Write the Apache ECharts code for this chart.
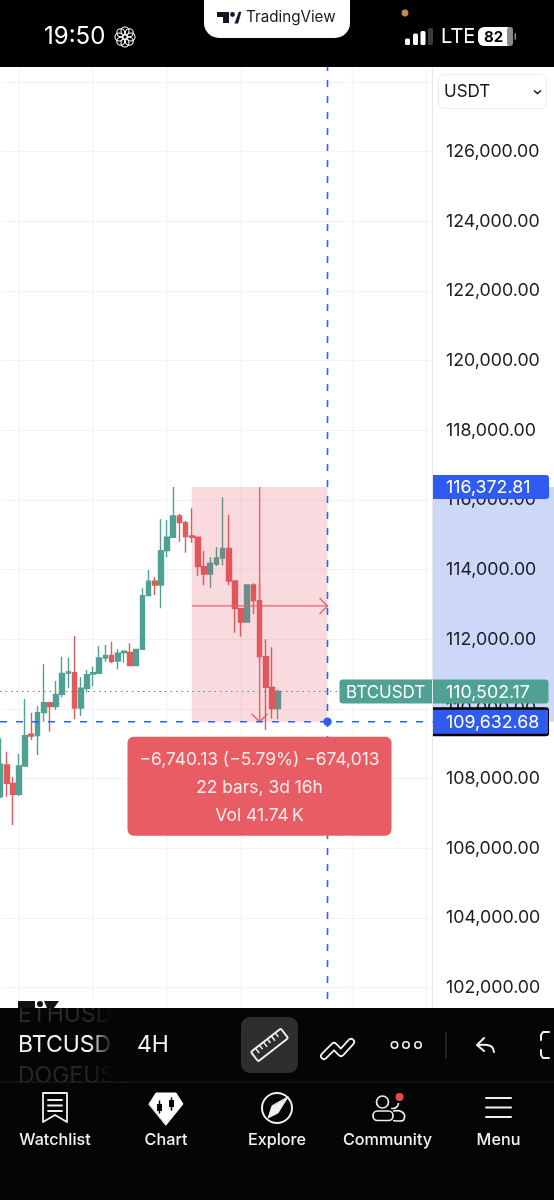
<!DOCTYPE html>
<html>
<head>
<meta charset="utf-8">
<title>BTCUSDT 4H</title>
<style>html,body{margin:0;padding:0;background:#fff}#chart{width:554px;height:1200px}</style>
<script src="https://cdn.jsdelivr.net/npm/echarts@6/dist/echarts.min.js"></script>
</head>
<body>
<div id="chart"></div>
<script>
// 4H candles, oldest first
const opens  = [107483,108393,107866,107550,108364,109273,109235,109895,110182,110067,110421,111034,111043,110029,110594,111005,111024,111465,111541,111378,111618,111627,111245,111713,113254,113666,113560,114546,114929,115541,115350,114967,114929,114087,113876,114163,114336,114613,113675,112881,112498,113560,113111,111503,110622,110010];
const closes = [108412,107866,107550,108364,109235,109225,109895,110182,110067,110421,111024,111063,110029,110594,110986,111043,111465,111541,111359,111599,111656,111245,111713,113254,113666,113560,114546,114929,115541,115350,114948,114929,114087,113876,114183,114336,114613,113675,112881,112498,113560,113111,111503,110622,110010,110502.17];
const lows   = [107436,107483,106670,107503,108364,109110,108680,109637,109350,109972,110335,110594,109704,109799,110479,110661,111024,111359,111311,111139,111331,111245,111245,111713,113254,113273,112891,114355,114929,114805,114489,114776,113819,113551,113484,114106,114125,113551,112192,112077,112498,112728,111359,109397,109723,109704];
const highs  = [109158,108775,108058,108708,110288,109895,110087,111283,110182,110814,111503,111474,112096,110910,111120,111216,111809,111838,111934,111713,111656,111886,111713,113465,113991,113781,115446,115427,116372.81,115599,115407,115761,114929,114537,114355,114651,116077,115580,113675,112881,113560,113608,113627,112001,111771,110560];

const totalBars = 71;
const categories = Array.from({length: totalBars}, (_, i) => String(i));
const priceTicks = [102000,104000,106000,108000,110000,112000,114000,116000,118000,120000,122000,124000,126000];
const sessionGridBars = [3,15,27,39,57,69];

const lastPrice = 110502.17;
const symbolName = 'BTCUSDT';
const rulerStartBar = 31;
const rulerEndBar = 53;
const rulerMidBar = 42;
const rulerHigh = 116372.81;
const rulerMid = 112960;
const rulerLow = 109632.68;
const rulerLines = ['\u22126,740.13 (\u22125.79%) \u2212674,013', '22 bars, 3d 16h', 'Vol 41.74\u2009K'];

const UP = '#4fa193', DOWN = '#e25b5b', BLUE = '#2f5bf0';
const FONT = 'Inter, "Noto Sans", sans-serif';
const money = v => v.toLocaleString('en-US', {minimumFractionDigits: 2, maximumFractionDigits: 2});
const candles = opens.map((o, i) => [o, closes[i], lows[i], highs[i]]);

const AXIS_X = 432.5;

// helpers for the phone chrome drawn over the chart
const Z = 100;
const txt = (x, y, text, size, fill, opt = {}) => ({type: 'text', z: Z + 2, x, y, style: {
  text, fill, font: `${opt.weight || 400} ${size}px ${FONT}`, align: opt.align || 'left', verticalAlign: 'middle'}});
const rect = (x, y, width, height, fill, r = 0, extra = {}) => ({type: 'rect', z: Z + 1, shape: {x, y, width, height, r},
  style: Object.assign({fill}, extra)});
const line = (x1, y1, x2, y2, stroke, lineWidth = 2) => ({type: 'line', z: Z + 2, shape: {x1, y1, x2, y2},
  style: {stroke, lineWidth, lineCap: 'round'}});
const poly = (points, stroke, lineWidth = 2, fill = null, z = Z + 2) => ({type: fill ? 'polygon' : 'polyline', z, shape: {points},
  style: {stroke, lineWidth, fill: fill || 'none', lineJoin: 'round', lineCap: 'round'}});
const circ = (cx, cy, r, fill, stroke, lineWidth = 2, z = Z + 2) => ({type: 'circle', z, shape: {cx, cy, r},
  style: {fill: fill || 'none', stroke: stroke || 'none', lineWidth}});
const fade = (x, y, w, h) => ({type: 'rect', z: Z + 3, shape: {x, y, width: w, height: h}, style: {
  fill: new echarts.graphic.LinearGradient(0, 0, 1, 0, [{offset: 0, color: 'rgba(5,5,5,0)'}, {offset: 1, color: '#050505'}])}});

const W = '#f2f2f2';
const NAV_SIZE = 16.2;
const chrome = [
  // price scale edge
  {type: 'line', z: 3, shape: {x1: AXIS_X, y1: 0, x2: AXIS_X, y2: 1200}, style: {stroke: '#e6e8ec', lineWidth: 1}},

  // currency selector
  {type: 'rect', z: 30, shape: {x: 438.5, y: 74.5, width: 108, height: 34, r: 5}, style: {fill: '#fff', stroke: '#ececee', lineWidth: 1}},
  {type: 'text', z: 31, x: 444, y: 92, style: {text: 'USDT', fill: '#131722', font: `400 17px ${FONT}`, verticalAlign: 'middle'}},
  {type: 'polyline', z: 31, shape: {points: [[534, 90.5], [537.5, 93.5], [541, 90.5]]}, style: {stroke: '#131722', lineWidth: 1.6, fill: 'none'}},

  // status bar
  rect(0, 0, 554, 67, '#000'),
  {type: 'rect', z: Z + 2, shape: {x: 204, y: -20, width: 146, height: 58, r: 15}, style: {fill: '#fff'}},
  poly([[217, 12], [229, 12], [229, 23], [223, 23], [223, 17], [217, 17]], '#131722', 0, '#131722'),
  circ(232.5, 14.5, 2.4, '#131722', null, 0),
  poly([[235, 23], [239, 12], [241, 12], [238, 23]], '#131722', 0.6, '#131722'),
  txt(246, 17.5, 'TradingView', 15.2, '#1a1a1a', {weight: 400}),
  txt(44, 37, '19:50', 24, '#fff', {weight: 400}),
  ...[0, 1, 2, 3, 4, 5, 6, 7].map(i => circ(125 + 6 * Math.cos(i * Math.PI / 4), 37 + 6 * Math.sin(i * Math.PI / 4), 4, null, '#fff', 1.1)),
  circ(405, 13, 3.4, '#c58a52', null, 0),
  rect(405, 38.5, 5, 6.5, '#fff', 1.5), rect(413, 33.5, 5, 11.5, '#fff', 1.5), rect(420.5, 31, 5, 14, '#fff', 1.5), rect(428, 28, 5, 17, '#3a3a3a', 1.5),
  txt(441, 37, 'LTE', 20, '#fff', {weight: 400}),
  rect(478, 27, 35, 19, '#fff', 6),
  rect(507, 27, 6, 19, '#8c8c8c', 3),
  rect(514.5, 33, 1.5, 7, '#8c8c8c', 1),
  txt(493.5, 37, '82', 15, '#000', {weight: 700, align: 'center'}),

  // symbol strip and bottom navigation
  rect(0, 1008, 554, 192, '#050505'),
  txt(18, 1015, 'ETHUSD', 23, '#2b2b2b', {weight: 400}),
  txt(18, 1045, 'BTCUSD', 23, '#f2f2f2', {weight: 400}),
  txt(18, 1076, 'DOGEUSD', 23, '#272727', {weight: 400}),
  fade(90, 1008, 23, 74),
  Object.assign(rect(113, 1008, 441, 74, '#050505', 0, {}), {z: Z + 3}),
  // the strip's scrolling text stops at its top edge; the logo sits on the chart just above
  {type: 'rect', z: Z + 3, shape: {x: 14, y: 1000, width: 100, height: 8}, style: {fill: '#fff'}},
  {type: 'rect', z: Z + 4, shape: {x: 18, y: 1001, width: 17, height: 7}, style: {fill: '#111'}},
  {type: 'circle', z: Z + 4, shape: {cx: 40, cy: 1004, r: 3}, style: {fill: '#111'}},
  {type: 'polygon', z: Z + 4, shape: {points: [[44, 1001], [59, 1001], [54, 1008], [47, 1008]]}, style: {fill: '#111'}},
  Object.assign(txt(137, 1045, '4H', 23, '#f2f2f2'), {z: Z + 4}),
  {type: 'rect', z: Z + 4, shape: {x: 241, y: 1017, width: 57, height: 56, r: 9}, style: {fill: '#2e2e2e'}},
  {type: 'group', z: Z + 5, x: 269.5, y: 1045, rotation: 38 * Math.PI / 180, children: [
    {type: 'rect', z: Z + 5, shape: {x: -19, y: -6, width: 38, height: 12, r: 1.5}, style: {fill: 'none', stroke: '#f0f0f0', lineWidth: 2}},
    ...[-13, -8, -3, 2, 7, 12].map((x, i) => ({type: 'line', z: Z + 5, shape: {x1: x, y1: -6, x2: x, y2: i % 2 ? -1 : 0}, style: {stroke: '#f0f0f0', lineWidth: 1.5}}))
  ]},
  Object.assign(poly([[324, 1056], [334, 1046], [341, 1053], [351, 1042]], '#f0f0f0', 8), {z: Z + 4}),
  Object.assign(poly([[324, 1056], [334, 1046], [341, 1053], [351, 1042]], '#050505', 4.4), {z: Z + 5}),
  ...[394.5, 406, 418].map(x => Object.assign(circ(x, 1045, 3.2, null, '#eee', 1.6), {z: Z + 4})),
  Object.assign(line(446, 1032, 446, 1058, '#2c2c2c', 1.5), {z: Z + 4}),
  Object.assign(poly([[484, 1038], [477, 1045], [484, 1051]], '#eee', 2), {z: Z + 4}),
  {type: 'polyline', z: Z + 4, shape: {points: [[478, 1045], [487, 1045], [492, 1047], [494, 1052]], smooth: 0.4}, style: {stroke: '#eee', lineWidth: 2, fill: 'none', lineCap: 'round'}},
  Object.assign(poly([[549, 1032], [543, 1032], [541, 1035], [541, 1040]], '#eee', 2), {z: Z + 4}),
  Object.assign(poly([[549, 1058], [543, 1058], [541, 1055], [541, 1050]], '#eee', 2), {z: Z + 4}),
  Object.assign(line(0, 1082, 554, 1082, '#1f1f1f', 1), {z: Z + 4}),
  Object.assign(rect(0, 1082.5, 554, 118, '#050505', 0), {z: Z + 3}),

  // Watchlist
  Object.assign(poly([[43, 1093], [67, 1093], [67, 1122], [55, 1115], [43, 1122], [43, 1093]], '#f0f0f0', 1.8), {z: Z + 4}),
  ...[1100, 1105.5, 1111].map(y => Object.assign(line(48, y, 62, y, '#f0f0f0', 1.8), {z: Z + 4})),
  Object.assign(txt(55, 1140, 'Watchlist', NAV_SIZE, W, {weight: 500, align: 'center'}), {z: Z + 4}),
  // Chart
  Object.assign(poly([[149, 1104], [156, 1093], [176, 1093], [183, 1104], [166, 1125]], '#fff', 1, '#fff'), {z: Z + 4}),
  ...[[159.5, 1101, 1113, 1104, 7], [171.5, 1098, 1110, 1100, 7]].map(c => [
    Object.assign(line(c[0], c[1], c[0], c[2], '#050505', 1.5), {z: Z + 5}),
    {type: 'rect', z: Z + 5, shape: {x: c[0] - 2.5, y: c[3], width: 5, height: c[4]}, style: {fill: '#050505'}}
  ]).flat(),
  Object.assign(txt(166, 1140, 'Chart', NAV_SIZE, W, {weight: 500, align: 'center'}), {z: Z + 4}),
  // Explore
  Object.assign(circ(277, 1108, 15, null, '#f0f0f0', 2), {z: Z + 4}),
  Object.assign(poly([[288, 1097], [278, 1113], [268, 1118], [272, 1106]], '#f0f0f0', 1, '#f0f0f0'), {z: Z + 4}),
  Object.assign(txt(277, 1140, 'Explore', NAV_SIZE, W, {weight: 500, align: 'center'}), {z: Z + 4}),
  // Community
  Object.assign(circ(382.5, 1102, 6, null, '#f0f0f0', 1.7), {z: Z + 4}),
  {type: 'rect', z: Z + 4, shape: {x: 373, y: 1111, width: 20, height: 9.5, r: 4.5}, style: {fill: 'none', stroke: '#f0f0f0', lineWidth: 1.7}},
  {type: 'polyline', z: Z + 4, shape: {points: [[393, 1111], [400, 1111], [404.5, 1115], [403, 1120.5], [393, 1120.5]], smooth: 0.3}, style: {fill: 'none', stroke: '#f0f0f0', lineWidth: 1.7}},
  {type: 'arc', z: Z + 4, shape: {cx: 393, cy: 1103, r: 5.5, startAngle: 0, endAngle: 1.9}, style: {fill: 'none', stroke: '#f0f0f0', lineWidth: 1.7}},
  Object.assign(circ(399.5, 1097, 4, '#e5484d', null, 0), {z: Z + 5}),
  Object.assign(txt(387.5, 1140, 'Community', NAV_SIZE, W, {weight: 500, align: 'center'}), {z: Z + 4}),
  // Menu
  ...[1098, 1107.5, 1117].map(y => Object.assign(line(486, y, 511, y, '#f0f0f0', 2), {z: Z + 4})),
  Object.assign(txt(498.5, 1140, 'Menu', NAV_SIZE, W, {weight: 500, align: 'center'}), {z: Z + 4})
];

// session separators on the time scale
const renderSessionLine = (params, api) => {
  const x = api.coord([api.value(0), 0])[0];
  const {y, height} = params.coordSys;
  return {type: 'line', shape: {x1: x, y1: y, x2: x, y2: y + height}, style: {stroke: '#f2f3f5', lineWidth: 1}};
};

// price range band behind the scale labels
const renderPriceBand = (params, api) => {
  const top = api.coord([0, rulerHigh])[1], bottom = api.coord([0, rulerLow])[1];
  return {type: 'rect', shape: {x: AXIS_X + 0.5, y: top, width: 122, height: bottom - top}, style: {fill: '#cdd8f8'}};
};

// ruler box: shaded area, mid cross with arrows
const renderRuler = (params, api) => {
  const [x0, yTop] = api.coord([rulerStartBar, rulerHigh]);
  const [x1, yBottom] = api.coord([rulerEndBar, rulerLow]);
  const xMid = api.coord([rulerMidBar, rulerLow])[0];
  const yMid = api.coord([0, rulerMid])[1];
  const red = '#e2646c';
  const stroke = {stroke: red, lineWidth: 1.4, fill: 'none'};
  return {type: 'group', children: [
    {type: 'rect', shape: {x: x0, y: yTop, width: x1 - x0, height: yBottom - yTop}, style: {fill: 'rgba(226,70,90,0.2)'}},
    {type: 'line', shape: {x1: x0, y1: yMid, x2: x1, y2: yMid}, style: stroke},
    {type: 'line', shape: {x1: xMid, y1: yTop, x2: xMid, y2: yBottom}, style: stroke},
    {type: 'polyline', shape: {points: [[x1 - 8, yMid - 8], [x1, yMid], [x1 - 8, yMid + 8]]}, style: stroke},
    {type: 'polyline', shape: {points: [[xMid - 8, yBottom - 8], [xMid, yBottom], [xMid + 8, yBottom - 8]]}, style: stroke}
  ]};
};

const renderCrosshair = (params, api) => {
  const [x, y] = api.coord([rulerEndBar, rulerLow]);
  const lastY = api.coord([0, lastPrice])[1];
  const dash = {stroke: '#2962ff', lineWidth: 1.6, lineDash: [7, 9], fill: 'none'};
  return {type: 'group', children: [
    {type: 'line', shape: {x1: 0, y1: lastY, x2: AXIS_X, y2: lastY}, style: {stroke: '#4f8f82', lineWidth: 1.2, lineDash: [1.5, 4]}},
    {type: 'line', shape: {x1: x, y1: 0, x2: x, y2: 1010}, style: dash},
    {type: 'line', shape: {x1: 0, y1: y, x2: AXIS_X, y2: y}, style: dash},
    {type: 'circle', shape: {cx: x, cy: y, r: 4.2}, style: {fill: BLUE}}
  ]};
};

// price tags on the scale and the measurement readout
const renderTags = (params, api) => {
  const topY = api.coord([0, rulerHigh])[1];
  const lastY = api.coord([0, lastPrice])[1];
  const lowY = api.coord([0, rulerLow])[1];
  const tagFont = `400 17.8px ${FONT}`;
  const label = (x, y, text, font = tagFont, align = 'left', fill = '#fff') => ({type: 'text', x, y,
    style: {text, font, fill, align, verticalAlign: 'middle'}});
  const boxTop = lowY + 15;
  return {type: 'group', children: [
    {type: 'rect', shape: {x: 433, y: topY - 12, width: 116, height: 24, r: [0, 3, 3, 0]}, style: {fill: BLUE}},
    label(446, topY + 1, money(rulerHigh)),
    {type: 'rect', shape: {x: 433, y: lowY - 14.5, width: 116, height: 29, r: [0, 3, 3, 0]}, style: {fill: '#000'}},
    {type: 'rect', shape: {x: 433, y: lowY - 12, width: 115, height: 24}, style: {fill: BLUE}},
    label(446, lowY + 1, money(rulerLow)),
    {type: 'rect', shape: {x: 339.5, y: lastY - 12, width: 209, height: 24, r: 3}, style: {fill: UP}},
    {type: 'line', shape: {x1: AXIS_X, y1: lastY - 12, x2: AXIS_X, y2: lastY + 12}, style: {stroke: '#dfeee9', lineWidth: 1}},
    label(346, lastY + 1, symbolName, `400 17px ${FONT}`),
    label(446, lastY + 1, money(lastPrice)),
    {type: 'rect', shape: {x: 127.5, y: boxTop, width: 264, height: 99, r: 6}, style: {fill: '#e85d64'}},
    ...rulerLines.map((t, i) => label(259.5, boxTop + 23 + i * 28, t, `400 17.4px ${FONT}`, 'center', '#fdecec'))
  ]};
};

const chart = echarts.init(document.getElementById('chart'), null, {renderer: 'canvas'});
chart.setOption({
  animation: false,
  backgroundColor: '#fff',
  grid: {left: 0.5, width: 431.9, top: 12.4, height: 1044.9, containLabel: false},
  xAxis: {type: 'category', data: categories, boundaryGap: false, axisLine: {show: false}, axisTick: {show: false},
    axisLabel: {show: false}, splitLine: {show: false}},
  yAxis: [
    {type: 'value', min: 100000, max: 130000, interval: 2000, position: 'left', z: 0,
      axisLine: {show: false}, axisTick: {show: false}, axisLabel: {show: false},
      splitLine: {show: true, lineStyle: {color: '#f2f3f5', width: 1}}},
    {type: 'value', min: 100000, max: 130000, interval: 2000, position: 'right', z: 10,
      axisLine: {show: false}, axisTick: {show: false}, splitLine: {show: false},
      axisLabel: {show: true, inside: false, margin: 13.6, align: 'left', color: '#1b1e27', fontFamily: FONT, fontSize: 17.8,
        padding: [2, 0, 0, 0],
        formatter: v => priceTicks.includes(v) ? money(v) : ''}}
  ],
  series: [
    {type: 'custom', z: 1, silent: true, renderItem: renderSessionLine, data: sessionGridBars.map(b => [b]), encode: {x: 0}},
    {type: 'custom', z: 2, silent: true, renderItem: renderPriceBand, data: [[0]], encode: {x: 0}},
    {type: 'candlestick', z: 3, clip: false, data: candles, barWidth: 5.2,
      itemStyle: {color: UP, color0: DOWN, borderColor: UP, borderColor0: DOWN, borderWidth: 1.4}},
    {type: 'custom', z: 5, silent: true, renderItem: renderRuler, data: [[0]], encode: {x: 0}},
    {type: 'custom', z: 6, silent: true, renderItem: renderCrosshair, data: [[0]], encode: {x: 0}},
    {type: 'custom', z: 20, silent: true, renderItem: renderTags, data: [[0]], encode: {x: 0}}
  ],
  graphic: {elements: chrome}
});
</script>
</body>
</html>
